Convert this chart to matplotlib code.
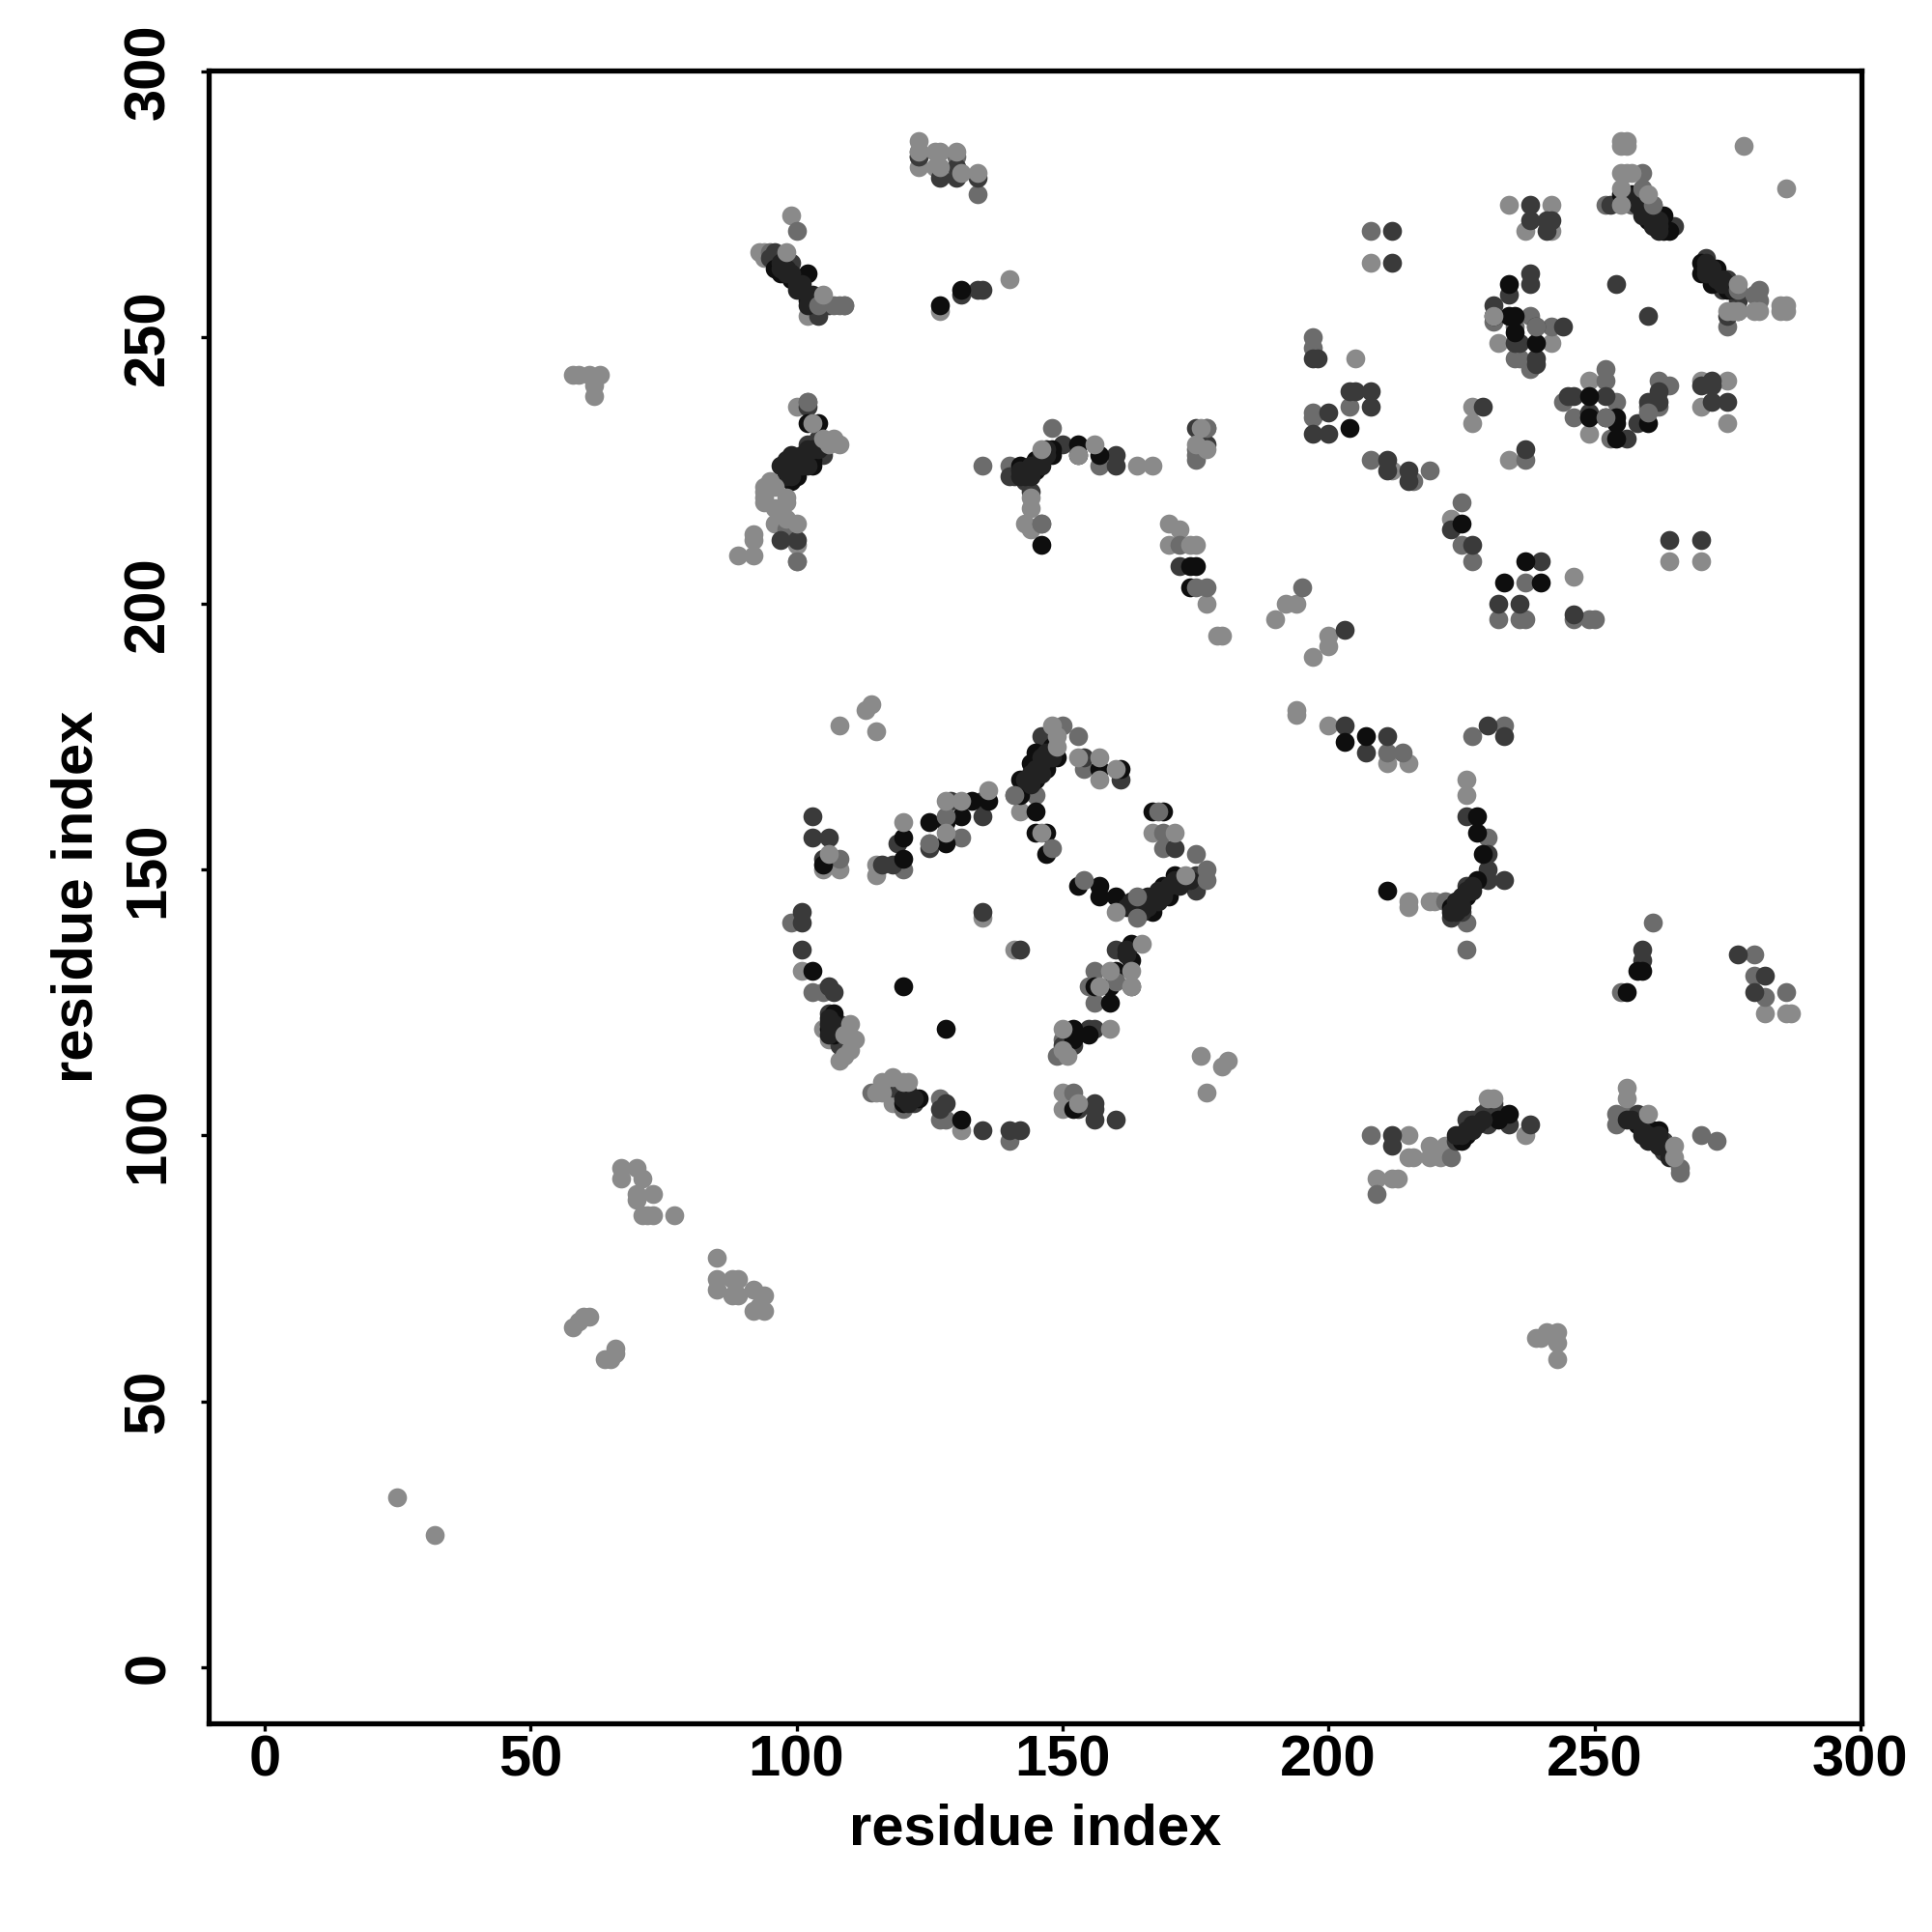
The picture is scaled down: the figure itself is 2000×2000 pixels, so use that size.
#!/usr/bin/env python3
"""Residue contact map drawn as grey dots, darker means stronger contact."""

import matplotlib
matplotlib.use('Agg')
import matplotlib.pyplot as plt

# (residue i, residue j), one list per grey level
light = [(25, 32), (32, 25), (58, 64), (59, 65), (60, 66), (61, 66), (64, 58), (65, 58), (66, 59), (66, 60),
         (58, 243), (59, 243), (61, 243), (63, 243), (62, 241), (62, 239),
         (67, 94), (67, 92), (70, 94), (71, 92), (70, 89), (70, 88), (73, 89), (72, 85), (73, 85), (71, 85), (77, 85),
         (85, 77), (85, 73), (85, 71), (88, 73), (89, 73), (88, 70), (89, 70), (92, 71), (94, 70), (92, 67), (94, 67), (93, 68),
         (239, 62), (240, 62), (241, 63), (243, 63), (243, 61), (243, 58),
         (123, 282), (126, 282), (99, 273), (93, 266), (94, 266), (94, 265), (102, 254), (127, 255), (140, 261),
         (100, 237), (92, 213), (92, 212), (92, 209), (89, 209), (96, 215), (96, 218), (100, 211), (100, 208),
         (143, 215), (144, 214), (164, 226), (167, 226), (170, 215), (172, 214), (170, 211), (177, 200),
         (179, 194), (180, 194), (190, 197), (192, 200), (194, 200), (194, 180), (194, 179), (197, 190), (200, 192), (200, 194),
         (278, 286), (286, 278), (234, 275), (242, 275), (237, 270), (242, 270), (232, 249), (242, 249),
         (249, 242), (270, 242), (275, 242), (270, 237), (275, 234), (249, 232), (234, 227), (227, 237), (227, 234),
         (223, 216), (212, 225), (208, 264), (205, 246), (246, 205), (264, 208), (270, 208),
         (200, 177), (211, 170), (215, 170), (226, 167), (226, 164), (215, 144), (215, 143), (219, 144), (220, 144),
         (282, 123), (286, 123), (287, 123), (209, 92), (212, 92), (213, 92), (215, 100), (215, 96), (216, 96), (219, 96),
         (219, 98), (221, 96), (222, 98), (237, 100), (108, 177), (113, 180), (114, 181), (115, 176),
         (101, 131), (105, 120), (106, 118), (108, 114), (115, 151), (115, 149), (167, 157), (176, 115), (180, 113), (181, 114), (177, 108),
         (150, 105), (150, 108), (131, 101), (135, 141), (141, 135), (118, 106), (105, 150), (108, 150), (142, 161)]

mid = [(123, 285), (123, 284), (130, 284), (134, 277), (100, 270), (95, 266), (109, 256), (108, 256),
       (102, 238), (98, 214), (100, 208), (135, 226), (140, 226), (148, 233), (157, 226), (146, 215), (175, 228), (175, 227),
       (177, 233), (172, 211), (177, 203), (195, 203), (231, 253), (235, 252), (238, 254), (242, 252), (235, 246), (236, 246),
       (238, 244), (252, 244), (252, 242), (262, 242), (264, 241), (244, 238), (254, 238), (260, 237), (262, 237),
       (246, 235), (253, 231), (237, 227), (225, 219), (219, 225), (252, 275), (257, 275), (261, 275),
       (275, 252), (197, 250), (197, 248), (208, 270), (197, 236), (197, 235), (204, 237), (208, 227), (216, 223), (225, 211),
       (227, 208), (237, 204), (232, 197), (236, 197), (237, 197), (246, 197), (249, 197), (250, 197), (211, 172), (214, 172),
       (227, 175), (233, 177), (230, 156), (226, 140), (226, 135), (222, 144), (261, 140), (255, 127), (280, 134),
       (280, 130), (282, 126), (286, 127), (209, 89), (208, 100), (223, 96), (230, 105), (254, 104), (254, 102),
       (256, 104), (266, 94), (266, 93), (270, 100), (273, 99), (154, 169), (141, 164), (145, 164), (99, 140),
       (103, 127), (105, 127), (108, 152), (125, 155), (131, 156), (120, 150), (156, 131), (155, 128), (156, 125),
       (114, 108), (120, 105), (127, 107), (127, 103), (128, 103), (140, 99), (149, 115), (150, 118), (175, 153), (169, 154), (169, 157)]

dark = [(127, 280), (130, 282), (130, 280), (134, 280), (123, 284), (96, 266), (95, 265), (99, 264), (100, 261),
        (104, 256), (106, 256), (104, 254), (134, 259), (135, 259), (131, 258), (102, 237), (104, 231), (105, 228),
        (97, 212), (100, 212), (140, 224), (141, 224), (143, 223), (144, 221), (150, 230), (160, 228), (160, 226),
        (175, 233), (177, 230), (172, 207), (203, 195), (238, 275), (238, 272), (241, 272), (242, 272), (241, 270),
        (238, 262), (238, 260), (234, 258), (231, 256), (239, 252), (244, 252), (235, 249), (236, 249), (239, 246), (239, 245),
        (270, 241), (272, 242), (272, 241), (262, 240), (245, 239), (246, 239), (252, 239), (260, 238), (262, 238), (272, 238),
        (275, 238), (249, 236), (258, 234), (256, 231), (254, 260), (260, 254), (237, 229), (229, 237), (253, 275),
        (265, 271), (271, 265), (275, 261), (274, 259), (277, 257), (277, 255), (275, 254),
        (212, 270), (212, 264), (197, 246), (198, 246), (204, 240), (205, 240), (208, 240), (208, 237), (200, 236),
        (197, 232), (200, 232), (211, 227), (211, 225), (215, 225), (215, 223), (223, 214), (227, 211), (240, 208),
        (232, 200), (236, 200), (246, 198), (264, 212), (270, 212), (203, 177), (207, 172), (211, 175), (230, 177), (233, 175),
        (226, 160), (230, 153), (230, 150), (230, 148), (233, 148), (226, 147), (225, 142), (223, 141),
        (259, 135), (259, 133), (277, 134), (282, 130), (280, 127), (212, 100), (212, 98), (224, 99), (226, 103), (227, 103),
        (229, 104), (234, 102), (238, 102), (258, 104), (263, 99), (263, 97),
        (146, 175), (154, 171), (161, 167), (175, 146), (175, 149), (171, 154), (103, 160), (103, 156), (106, 156), (105, 152),
        (116, 151), (118, 151), (119, 155), (125, 154), (129, 163), (135, 163), (135, 160), (135, 142), (142, 135),
        (101, 142), (101, 140), (101, 135), (106, 128), (107, 127), (106, 123), (108, 121), (108, 117), (160, 135), (163, 128),
        (155, 120), (156, 120), (152, 117), (150, 117), (118, 109), (121, 108), (122, 106), (128, 106), (127, 105),
        (135, 101), (140, 101), (142, 101), (153, 105), (156, 106), (156, 105), (156, 103), (160, 103),
        (102, 230), (103, 230), (104, 230), (105, 229), (230, 102), (231, 103), (259, 103), (231, 106), (232, 104)]

# dense runs along the contact bands, a little lighter than the black dots
band = [(97, 226), (98, 227), (99, 226), (99, 228), (100, 226), (101, 228), (101, 226), (102, 229), (102, 226),
        (103, 229), (104, 229), (99, 224), (98, 224),
        (143, 167), (144, 168), (146, 170), (146, 171), (147, 172), (148, 171), (145, 169), (146, 168), (144, 166),
        (162, 143), (163, 144), (165, 144), (166, 145), (165, 142), (166, 143), (168, 146), (168, 144), (169, 145),
        (170, 147), (171, 148), (172, 147), (172, 148), (173, 148), (174, 148),
        (223, 142), (224, 143), (224, 144), (225, 143), (225, 145), (226, 146), (227, 147), (227, 146), (224, 142),
        (226, 101), (227, 101), (228, 102), (227, 102), (225, 100), (224, 100), (229, 103),
        (256, 103), (257, 103), (259, 101), (259, 100), (260, 100), (260, 99), (262, 100), (262, 98), (263, 98),
        (264, 97), (264, 96),
        (97, 264), (98, 263), (97, 263), (98, 262), (99, 262), (100, 260), (100, 259), (101, 260), (102, 258),
        (103, 258), (103, 257), (102, 256),
        (257, 276), (258, 275), (259, 274), (259, 273), (261, 273), (262, 272), (261, 271), (262, 271), (262, 270), (258, 276),
        (271, 263), (271, 262), (272, 262), (272, 263), (273, 261), (274, 260), (275, 260), (276, 259), (274, 261), (271, 264),
        (143, 224), (144, 224), (144, 226), (145, 226), (146, 227), (146, 226), (146, 228), (147, 228), (147, 229),
        (143, 225), (142, 224), (142, 225),
        (162, 134), (162, 135), (106, 121), (106, 122), (107, 121), (107, 120), (106, 119), (120, 107), (121, 106), (122, 107)]

black = [(96, 263), (97, 262), (99, 261), (102, 262), (101, 259), (102, 257), (127, 256), (131, 259),
         (102, 234), (104, 234), (102, 228), (103, 226), (100, 227), (100, 224), (103, 227), (98, 225), (99, 223),
         (142, 226), (144, 225), (145, 225), (145, 227), (148, 228), (148, 229), (153, 230), (153, 228), (157, 228), (146, 211),
         (174, 207), (175, 207), (174, 203), (233, 204), (237, 208), (240, 204), (225, 215), (204, 233),
         (234, 260), (231, 254), (234, 254), (235, 254), (235, 251), (239, 249), (249, 239), (249, 235), (252, 235), (254, 235),
         (254, 234), (260, 234), (254, 231), (255, 277), (257, 277), (260, 274), (260, 272), (263, 273), (263, 270), (264, 270),
         (270, 264), (270, 262), (273, 263), (272, 260), (275, 259), (203, 174), (207, 175),
         (228, 160), (228, 157), (229, 153), (228, 148), (225, 144), (226, 145), (223, 143), (211, 146), (259, 131), (258, 131), (256, 127),
         (225, 99), (226, 100), (232, 103), (234, 104), (258, 102), (261, 101), (261, 99), (262, 101),
         (145, 172), (149, 171), (148, 173), (144, 170), (147, 169), (142, 167), (145, 167), (157, 169), (161, 169),
         (142, 164), (145, 161), (145, 157), (147, 157), (147, 153), (167, 161), (169, 161), (171, 149), (170, 145),
         (169, 147), (167, 144), (167, 142), (164, 142), (160, 145), (157, 147), (157, 145), (153, 147), (155, 119),
         (105, 151), (120, 152), (120, 156), (125, 159), (128, 159), (128, 155), (131, 160), (133, 163), (136, 163),
         (120, 128), (128, 120), (103, 131), (107, 123), (106, 120), (107, 119), (163, 136), (163, 133), (160, 131),
         (156, 128), (159, 128), (159, 125), (152, 120), (152, 118), (120, 106), (123, 107), (131, 103), (152, 105)]

# these sit on top of the darker dots in the picture
light_top = [(123, 287), (123, 285), (126, 285), (127, 285), (130, 285), (127, 282), (131, 281), (134, 281),
             (98, 266), (105, 258), (103, 234), (105, 231), (107, 231), (106, 230), (108, 230),
             (95, 223), (94, 222), (94, 221), (94, 220), (94, 219), (96, 222), (98, 220), (98, 219), (98, 216), (100, 215),
             (146, 229), (144, 220), (144, 218), (156, 230), (153, 228), (176, 233), (175, 230), (177, 229),
             (174, 211), (175, 211), (255, 287), (256, 287), (255, 286), (256, 286), (255, 281), (256, 281), (257, 281),
             (255, 278), (255, 275), (260, 277), (231, 254), (275, 255), (276, 255), (277, 255), (277, 260),
             (280, 255), (281, 255), (285, 256), (286, 256), (285, 255), (286, 255),
             (230, 107), (231, 107), (265, 98), (265, 96), (260, 104), (256, 109), (256, 107),
             (148, 177), (149, 175), (149, 173), (153, 171), (157, 171), (157, 167), (160, 169), (146, 157), (106, 153),
             (120, 159), (128, 157), (128, 163), (131, 163), (136, 165), (171, 157), (173, 149),
             (160, 142), (165, 136), (163, 131), (163, 128), (159, 131), (157, 128), (159, 120), (150, 120), (150, 116), (151, 115),
             (110, 121), (109, 119), (111, 118), (110, 116), (109, 115), (115, 108), (116, 110), (116, 108), (118, 111),
             (120, 110), (121, 110), (153, 106)]

mid_top = [(259, 281), (259, 278), (261, 275), (281, 259), (280, 258), (281, 257), (277, 259), (239, 252),
           (153, 175), (150, 177), (148, 154), (154, 148), (164, 145), (164, 141), (177, 150), (177, 148),
           (168, 161), (175, 229), (102, 238), (146, 215), (177, 233), (175, 203), (152, 108), (160, 129), (128, 160),
           (125, 155), (109, 256), (107, 256), (252, 235), (260, 236), (104, 256), (141, 164)]

x_ticks = [0, 50, 100, 150, 200, 250, 300]
y_ticks = [0, 50, 100, 150, 200, 250, 300]

plt.rcParams['font.family'] = ['Liberation Sans', 'DejaVu Sans']
plt.rcParams['font.weight'] = 'bold'

fig = plt.figure(figsize=(10, 10), dpi=200)
ax = fig.add_axes([216 / 2000, 1 - 1784 / 2000, (1927 - 216) / 2000, (1784 - 73) / 2000])

# drawing order matters, the dots overlap a lot
layers = [(light, '#8a8a8a'), (mid, '#6c6c6c'), (dark, '#3a3a3a'), (black, '#0e0e0e'), (band, '#222222'),
          (mid_top, '#6c6c6c'), (light_top, '#8a8a8a')]
for pts, col in layers:
    xs = [p[0] for p in pts]
    ys = [p[1] for p in pts]
    ax.scatter(xs, ys, s=50, c=col, linewidths=0, clip_on=False)

ax.set_xlim(-10.5, 300.2)
ax.set_ylim(-10.5, 300.2)
ax.set_xticks(x_ticks)
ax.set_yticks(y_ticks)
ax.tick_params(length=2.8, width=1.2, labelsize=21.5, pad=1.5)
ax.tick_params(axis='y', labelrotation=90, pad=9.5)
for lab in ax.get_yticklabels():
    lab.set_va('center')
ax.set_xlabel('residue index', fontsize=21.5, fontweight='bold', labelpad=5.5)
ax.set_ylabel('residue index', fontsize=21.5, fontweight='bold', labelpad=7)
for sp in ax.spines.values():
    sp.set_linewidth(1.9)

fig.savefig('out.png', dpi=200, facecolor='white')
